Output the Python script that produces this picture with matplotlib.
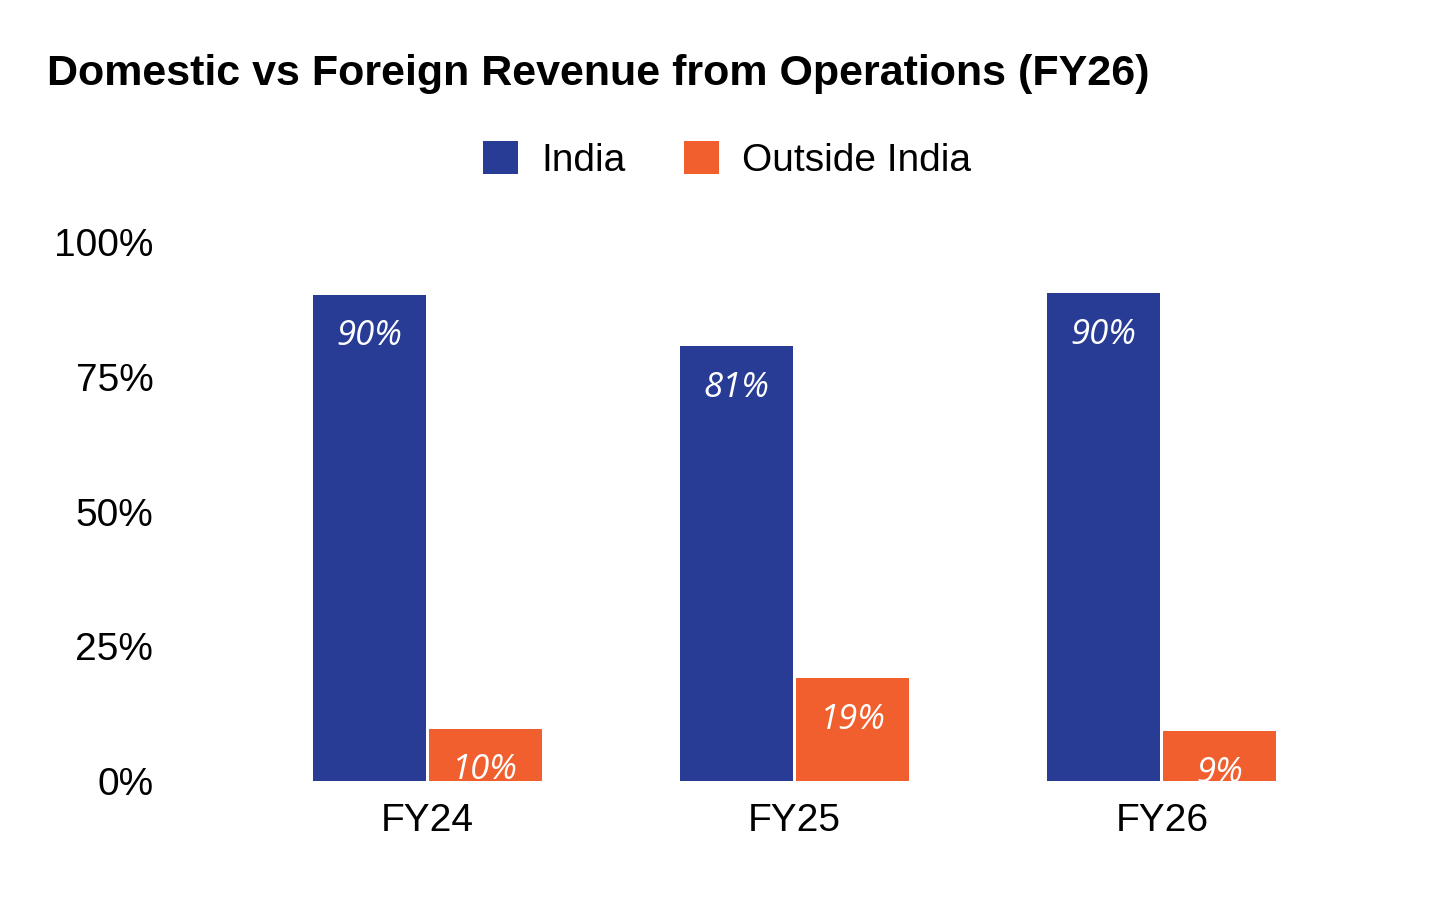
import numpy as np
import matplotlib.pyplot as plt

years = ["FY24", "FY25", "FY26"]
india = [90.2, 80.7, 90.5]
outside = [9.7, 19.1, 9.2]
series_names = ["India", "Outside India"]
colors = ["#283c96", "#f05f2d"]
yticks = [0, 25, 50, 75, 100]

plt.rcParams['font.family'] = ['Liberation Sans', 'DejaVu Sans']

fig = plt.figure(figsize=(14.56, 9.01), dpi=100)
ax = fig.add_axes([170 / 1456, 1 - 781 / 901, (1419 - 170) / 1456, (781 - 242) / 901])

x = np.arange(len(years))
w = 0.308
gap = 0.008
for vals, off, col, name in [(india, -(w + gap) / 2, colors[0], series_names[0]),
                             (outside, (w + gap) / 2, colors[1], series_names[1])]:
    bars = ax.bar(x + off, vals, width=w, color=col, label=name)
    for b, v in zip(bars, vals):
        ax.annotate(f"{round(v)}%", (b.get_x() + b.get_width() / 2, v),
                    xytext=(0, -30), textcoords="offset points",
                    ha="center", va="center", color="white",
                    fontsize=25, style="italic", family=["Open Sans", "DejaVu Sans"])

ax.set_xlim(-0.7, 2.7)
ax.set_ylim(0, 100)
ax.set_yticks(yticks, [f"{t}%" for t in yticks])
ax.set_xticks(x, years)
ax.tick_params(length=0, labelsize=28)
ax.tick_params(axis="y", pad=12)
ax.tick_params(axis="x", pad=16)
for s in ax.spines.values():
    s.set_visible(False)

fig.text(47 / 1456, 1 - 74 / 901, "Domestic vs Foreign Revenue from Operations (FY26)",
         fontsize=31, fontweight="bold", va="center", ha="left")
fig.legend(loc="center", bbox_to_anchor=(727 / 1456, 1 - 160 / 901), ncol=2,
           frameon=False, fontsize=28, handlelength=0.9, handleheight=0.9,
           columnspacing=1.5, handletextpad=0.6)

fig.savefig("out.png", dpi=100)
